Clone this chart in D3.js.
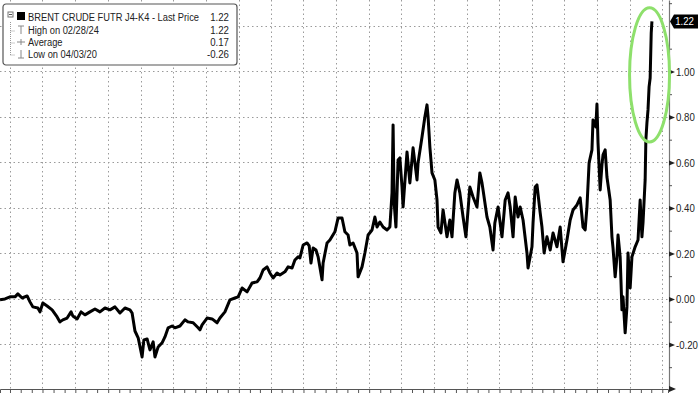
<!DOCTYPE html>
<html>
<head>
<meta charset="utf-8">
<script src="https://cdn.jsdelivr.net/npm/d3@7"></script>
<style>
  body { margin: 0; background: #fff; }
  svg { display: block; font-family: "Liberation Sans", Arial, sans-serif; }
</style>
</head>
<body>
<svg id="chart" width="700" height="394"></svg>
<script>
// days since 2019-03-04 and spread value (J4-K4)
const startDate = new Date(2019, 2, 4);
const dayOffsets = [
  0, 14, 28, 42, 50, 62, 76, 84, 92, 106, 112, 120, 132, 146, 160, 168, 176, 188, 199, 204,
  216, 227, 238, 252, 266, 280, 294, 308, 322, 336, 350, 364, 370, 378, 387, 398, 403, 412, 420, 429,
  434, 443, 454, 462, 471, 482, 490, 504, 518, 527, 541, 555, 560, 566, 580, 594, 608, 616, 630, 644,
  658, 667, 678, 692, 706, 720, 728, 737, 748, 756, 765, 776, 784, 798, 807, 818, 826, 835, 840, 849,
  860, 866, 871, 877, 885, 891, 902, 905, 916, 924, 938, 947, 958, 966, 975, 980, 989, 1000, 1003, 1014,
  1022, 1031, 1042, 1050, 1056, 1064, 1073, 1084, 1092, 1098, 1101, 1104, 1109, 1115, 1120, 1126, 1129, 1140, 1148, 1157,
  1168, 1171, 1182, 1190, 1196, 1199, 1204, 1210, 1218, 1224, 1227, 1235, 1241, 1252, 1260, 1266, 1274, 1280, 1288, 1297,
  1305, 1316, 1325, 1336, 1344, 1350, 1353, 1364, 1372, 1381, 1386, 1395, 1406, 1415, 1423, 1429, 1437, 1443, 1451, 1457,
  1465, 1476, 1479, 1490, 1493, 1499, 1504, 1513, 1518, 1524, 1532, 1541, 1549, 1560, 1569, 1577, 1588, 1597, 1605, 1616,
  1625, 1633, 1639, 1644, 1650, 1658, 1661, 1669, 1672, 1675, 1681, 1686, 1689, 1695, 1700, 1709, 1714, 1717, 1723, 1728,
  1731, 1737, 1742, 1745, 1751, 1756, 1759, 1765, 1770, 1779, 1787, 1793, 1798, 1801, 1807, 1809, 1812, 1815, 1818, 1821,
  1824, 1826
];
const spread = [
  -0.004, 0.000, 0.009, 0.009, 0.022, 0.004, 0.013, -0.013, -0.035, -0.040, -0.057, -0.018, -0.031, -0.048, -0.079, -0.101, -0.092, -0.084, -0.057, -0.075,
  -0.088, -0.057, -0.070, -0.057, -0.044, -0.057, -0.040, -0.048, -0.035, -0.062, -0.040, -0.048, -0.062, -0.141, -0.171, -0.255, -0.180, -0.176, -0.224, -0.189,
  -0.255, -0.211, -0.193, -0.167, -0.127, -0.119, -0.127, -0.119, -0.092, -0.101, -0.105, -0.127, -0.136, -0.114, -0.084, -0.088, -0.105, -0.084, -0.057, -0.004,
  0.004, 0.009, 0.048, 0.031, 0.070, 0.075, 0.092, 0.127, 0.141, 0.114, 0.092, 0.114, 0.105, 0.119, 0.141, 0.136, 0.171, 0.185, 0.180, 0.237,
  0.246, 0.233, 0.158, 0.224, 0.215, 0.185, 0.084, 0.158, 0.246, 0.259, 0.295, 0.356, 0.356, 0.295, 0.281, 0.237, 0.246, 0.202, 0.097, 0.141,
  0.202, 0.281, 0.303, 0.360, 0.316, 0.338, 0.316, 0.303, 0.316, 0.466, 0.765, 0.422, 0.316, 0.611, 0.620, 0.492, 0.404, 0.646, 0.510, 0.664,
  0.523, 0.598, 0.712, 0.800, 0.853, 0.800, 0.668, 0.554, 0.523, 0.435, 0.316, 0.290, 0.391, 0.273, 0.347, 0.273, 0.466, 0.523, 0.466, 0.360,
  0.273, 0.492, 0.448, 0.404, 0.554, 0.510, 0.479, 0.360, 0.316, 0.215, 0.334, 0.404, 0.273, 0.435, 0.466, 0.404, 0.273, 0.448, 0.360, 0.404,
  0.347, 0.202, 0.136, 0.229, 0.334, 0.492, 0.501, 0.378, 0.316, 0.202, 0.273, 0.215, 0.290, 0.229, 0.316, 0.163, 0.259, 0.347, 0.391, 0.413,
  0.444, 0.316, 0.303, 0.404, 0.598, 0.655, 0.787, 0.756, 0.857, 0.686, 0.479, 0.589, 0.633, 0.655, 0.536, 0.435, 0.273, 0.224, 0.097, 0.185,
  0.281, 0.185, -0.048, 0.009, -0.149, -0.035, 0.202, 0.048, 0.185, 0.229, 0.259, 0.435, 0.273, 0.334, 0.523, 0.699, 0.774, 0.831, 0.932, 0.971,
  1.169, 1.22
];
const yTicks = [-0.2, 0, 0.2, 0.4, 0.6, 0.8, 1.0];
const yMinorTicks = [-0.3, -0.1, 0.1, 0.3, 0.5, 0.7, 0.9, 1.1, 1.3];
const gridValues = [-0.2, 0, 0.2, 0.4, 0.6, 0.8, 1.0, 1.2];
const legendLabels = ["BRENT CRUDE FUTR J4-K4 - Last Price", "High on 02/28/24", "Average", "Low on 04/03/20"];
const legendValues = ["1.22", "1.22", "0.17", "-0.26"];
const lastPrice = 1.22;

const data = dayOffsets.map((d, i) => ({ date: d3.timeDay.offset(startDate, d), value: spread[i] }));

const svg = d3.select("#chart");
const plotW = 669, plotH = 389;
const sx = 0.84; // narrow the glyphs a little, like the terminal font
const fmt = d => d3.format(".2f")(d).replace("\u2212", "-");

const x = d3.scaleTime()
  .domain([startDate, d3.timeDay.offset(startDate, 1871)])
  .range([0, 668]);
const y = d3.scaleLinear().domain([-0.396, 1.314]).range([plotH, 0]);

// grid
const grid = svg.append("g");
grid.selectAll(".hg").data(gridValues).enter().append("line")
  .attr("x1", 0).attr("x2", plotW)
  .attr("y1", d => Math.round(y(d)) + 0.5).attr("y2", d => Math.round(y(d)) + 0.5)
  .attr("stroke", "#9a9a9a").attr("stroke-dasharray", "1.5,3");
const quarters = d3.timeMonth.every(3).range(new Date(2019, 3, 1), x.domain()[1]);
grid.selectAll(".vg").data(quarters).enter().append("line")
  .attr("y1", 0).attr("y2", plotH)
  .attr("x1", d => Math.round(x(d)) + 0.5).attr("x2", d => Math.round(x(d)) + 0.5)
  .attr("stroke", "#9a9a9a").attr("stroke-dasharray", "1.5,3");

// bottom axis (monthly ticks only, labels cut off)
const xAxisG = svg.append("g").attr("transform", `translate(0,${plotH})`)
  .call(d3.axisBottom(x).ticks(d3.timeMonth.every(1)).tickSize(4).tickFormat(""));
xAxisG.select(".domain").attr("stroke", "#555");
xAxisG.selectAll(".tick line").attr("stroke", "#555");

// right axis
const yAxisG = svg.append("g").attr("transform", `translate(${plotW},0)`)
  .call(d3.axisRight(y).tickValues(yTicks).tickSize(0).tickFormat(fmt));
yAxisG.select(".domain").attr("stroke", "#777").attr("stroke-width", 1.2);
yAxisG.selectAll(".tick text")
  .attr("x", 7 / sx)
  .attr("transform", `scale(${sx},1)`)
  .attr("font-size", 11.5).attr("fill", "#222");
yAxisG.selectAll(".tick").append("path").attr("d", "M0,-2.5L6,0L0,2.5Z").attr("fill", "#222");
const minorG = svg.append("g").attr("transform", `translate(${plotW},0)`)
  .call(d3.axisRight(y).tickValues(yMinorTicks).tickSize(3).tickFormat(""));
minorG.select(".domain").remove();
minorG.selectAll(".tick line").attr("stroke", "#555");
svg.append("path").attr("d", `M${plotW},${plotH - 3}L${plotW + 7},${plotH}L${plotW},${plotH + 3}Z`).attr("fill", "#222");

// series line
const line = d3.line().x(d => x(d.date)).y(d => y(d.value));
svg.append("path").datum(data)
  .attr("d", line)
  .attr("fill", "none")
  .attr("stroke", "#000")
  .attr("stroke-width", 3)
  .attr("stroke-linejoin", "round");

// last price tag
const ly = y(lastPrice);
svg.append("path")
  .attr("d", `M${plotW + 1},${ly}L${plotW + 5},${ly - 7}H698V${ly + 7}H${plotW + 5}Z`)
  .attr("fill", "#000");
svg.append("text").attr("x", 694 / sx).attr("y", ly + 4)
  .attr("transform", `scale(${sx},1)`)
  .attr("text-anchor", "end").attr("font-size", 11.5).attr("fill", "#fff")
  .text(fmt(lastPrice));

// green ellipse round the recent spike
const tail = data.slice(-8);
const ex0 = x(tail[0].date), ex1 = x(tail[tail.length - 1].date);
svg.append("ellipse")
  .attr("cx", (ex0 + ex1) / 2 + 1)
  .attr("cy", (y(0.69) + y(1.28)) / 2)
  .attr("rx", 20)
  .attr("ry", (y(0.69) - y(1.28)) / 2)
  .attr("fill", "none")
  .attr("stroke", "#8ee06c")
  .attr("stroke-width", 3);

// legend
const lg = svg.append("g").attr("transform", "translate(3,4)");
lg.append("rect").attr("width", 234).attr("height", 61).attr("rx", 3)
  .attr("fill", "#fff").attr("stroke", "#555").attr("stroke-width", 1.2);
const rowY = [17, 30, 42, 54];
// tree lines
lg.append("path").attr("d", `M7.5,${rowY[0] + 1}V${rowY[3] - 3}M7.5,${rowY[1] - 3}H12M7.5,${rowY[2] - 3}H12M7.5,${rowY[3] - 3}H12`)
  .attr("stroke", "#999").attr("stroke-dasharray", "1,1").attr("fill", "none");
lg.append("rect").attr("x", 5).attr("y", rowY[0] - 9).attr("width", 5).attr("height", 5)
  .attr("fill", "#fff").attr("stroke", "#777");
lg.append("line").attr("x1", 6).attr("x2", 9).attr("y1", rowY[0] - 6.5).attr("y2", rowY[0] - 6.5).attr("stroke", "#555");
lg.append("rect").attr("x", 14).attr("y", rowY[0] - 9).attr("width", 8).attr("height", 8).attr("fill", "#000");
// high / average / low symbols
lg.append("path").attr("d", `M15,${rowY[1] - 8}H21M18,${rowY[1] - 8}V${rowY[1]}`).attr("stroke", "#888").attr("fill", "none");
lg.append("path").attr("d", `M14,${rowY[2] - 4}H22M18,${rowY[2] - 7}V${rowY[2] - 1}`).attr("stroke", "#888").attr("fill", "none");
lg.append("path").attr("d", `M15,${rowY[3]}H21M18,${rowY[3] - 8}V${rowY[3]}`).attr("stroke", "#888").attr("fill", "none");
lg.selectAll(".lbl").data(legendLabels).enter().append("text")
  .attr("x", 25 / 0.81).attr("y", (d, i) => rowY[i])
  .attr("transform", "scale(0.81,1)")
  .attr("font-size", 11.5).attr("fill", "#222").text(d => d);
lg.selectAll(".val").data(legendValues).enter().append("text")
  .attr("x", 226 / sx).attr("y", (d, i) => rowY[i]).attr("text-anchor", "end")
  .attr("transform", `scale(${sx},1)`)
  .attr("font-size", 11.5).attr("fill", "#222").text(d => d);
</script>
</body>
</html>
